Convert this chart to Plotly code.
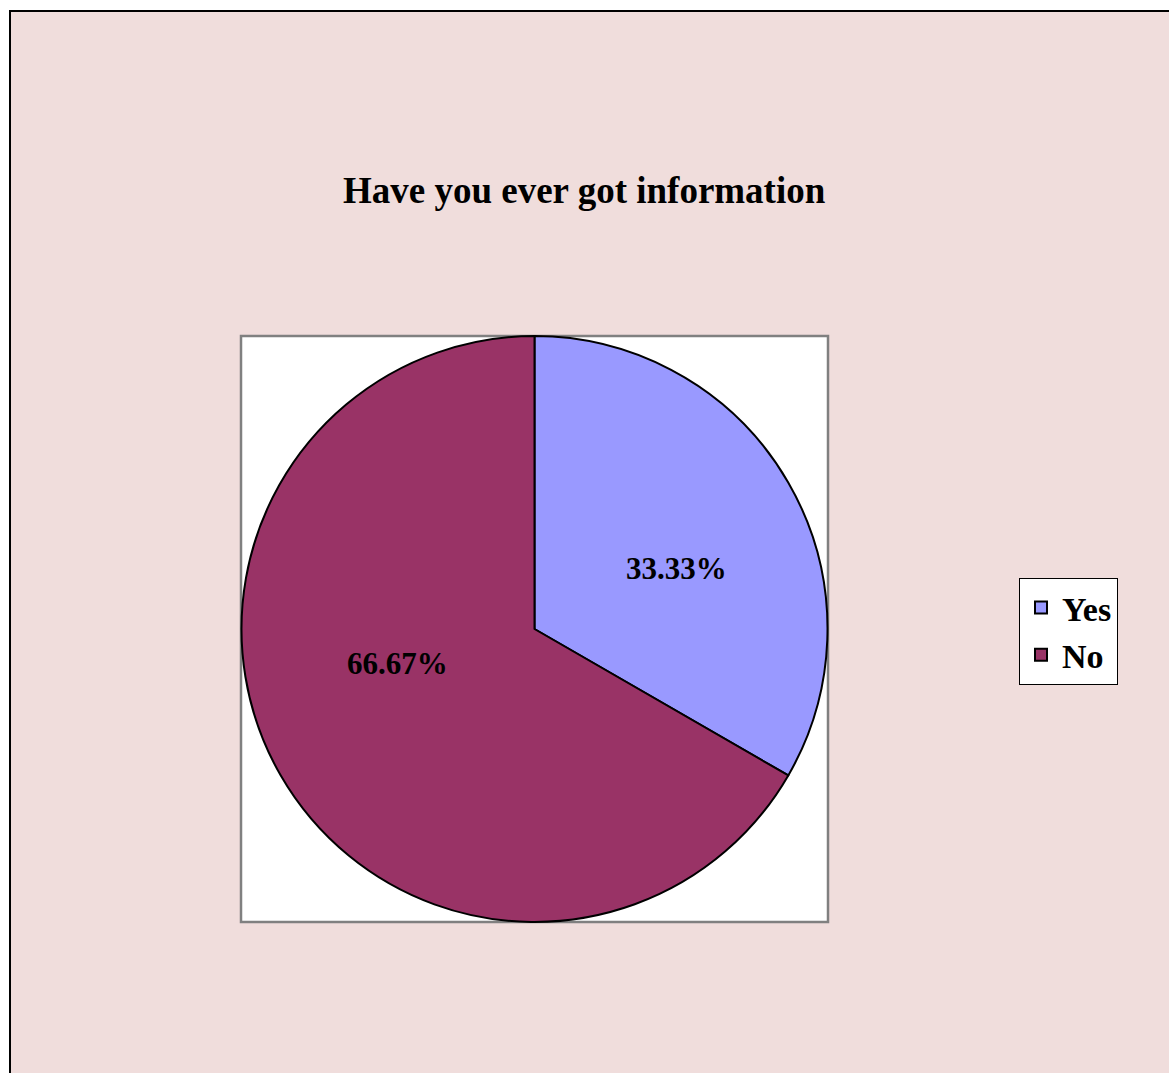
import plotly.graph_objects as go

W, H = 1169, 1073
labels = ["Yes", "No"]
values = [33.33, 66.67]
colors = ["#9999FF", "#993366"]
title_text = "Have you ever got information"
label_pos = [(676, 568), (397, 663)]  # pixel positions for data labels

def px(x):
    return x / W

def py(y):
    return 1 - y / H

fig = go.Figure()
fig.add_trace(go.Pie(
    labels=labels,
    values=values,
    sort=False,
    direction="clockwise",
    rotation=0,
    marker=dict(colors=colors, line=dict(color="black", width=2)),
    textinfo="none",
    domain=dict(x=[px(241), px(828)], y=[py(922), py(336)]),
    hoverinfo="label+percent",
))

annotations = [dict(
    text="<b>" + title_text + "</b>", x=px(584), y=py(190),
    xref="paper", yref="paper", showarrow=False, xanchor="center", yanchor="middle",
    font=dict(family="Liberation Serif", size=37, color="black"),
)]
for v, (lx, ly) in zip(values, label_pos):
    annotations.append(dict(
        text="<b>%.2f%%</b>" % v, x=px(lx), y=py(ly),
        xref="paper", yref="paper", showarrow=False, xanchor="center", yanchor="middle",
        font=dict(family="Liberation Serif", size=31, color="black"),
    ))

fig.update_layout(
    width=W, height=H,
    margin=dict(l=0, r=0, t=0, b=0),
    paper_bgcolor="white",
    plot_bgcolor="white",
    showlegend=True,
    legend=dict(
        x=px(1019), y=py(578), xanchor="left", yanchor="top",
        bgcolor="white", bordercolor="black", borderwidth=1,
        font=dict(family="Liberation Serif", size=34, color="black", weight="bold"),
        itemwidth=32, tracegroupgap=0,
    ),
    annotations=annotations,
    shapes=[
        dict(type="rect", xref="paper", yref="paper", x0=px(10), x1=1.01, y0=-0.01, y1=py(11),
             fillcolor="rgb(240,221,220)", line=dict(width=0), layer="below"),
        dict(type="line", xref="paper", yref="paper", x0=px(10), x1=px(10), y0=-0.01, y1=py(10),
             line=dict(color="black", width=2)),
        dict(type="line", xref="paper", yref="paper", x0=px(9), x1=1.01, y0=py(11), y1=py(11),
             line=dict(color="black", width=2)),
        dict(type="rect", xref="paper", yref="paper", x0=px(241), x1=px(828), y0=py(922), y1=py(336),
             fillcolor="white", line=dict(color="#808080", width=2.5), layer="below"),
    ],
)

fig.write_html(
    "out.html",
    config={"displayModeBar": False},
    post_script="document.body.style.margin='0';document.body.style.overflow='hidden';",
)
